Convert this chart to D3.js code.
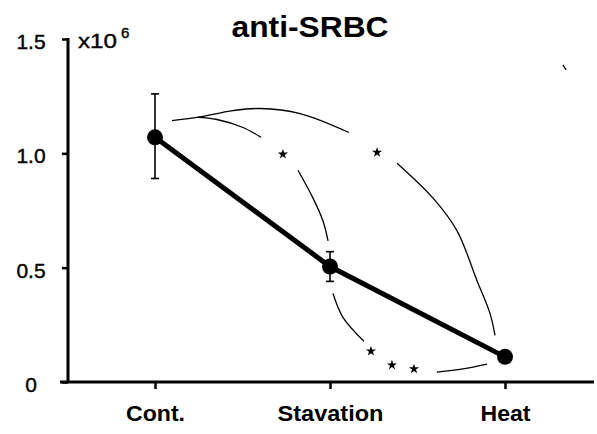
<!DOCTYPE html>
<html>
<head>
<meta charset="utf-8">
<script src="https://cdn.jsdelivr.net/npm/d3@7"></script>
<style>
  html, body { margin: 0; padding: 0; background: #fff; }
  svg { display: block; font-family: "Liberation Sans", Arial, Helvetica, sans-serif; }
</style>
</head>
<body>
<svg id="chart" width="597" height="434"></svg>
<script>
// ---- data ----
const categories = ["Cont.", "Stavation", "Heat"];
const means = [1.07, 0.505, 0.11];
const errLow = [0.89, 0.44, 0.11];
const errHigh = [1.26, 0.57, 0.11];
const yTicks = [0, 0.5, 1.0, 1.5];
const yTickLabels = ["0", "0.5", "1.0", "1.5"];
const title = "anti-SRBC";
const unitBase = "x10";
const unitExp = "6";

// significance annotation arcs: [category index position, value]
const arcUpper1 = [[0.097,1.143],[0.24,1.157],[0.446,1.187],[0.6,1.196],[0.829,1.174],[1.109,1.091]];
const arcUpper2 = [[1.383,0.957],[1.589,0.804],[1.726,0.661],[1.84,0.443],[1.914,0.30],[1.943,0.204]];
const arcMid1 = [[0.24,1.157],[0.354,1.148],[0.503,1.113],[0.606,1.07]];
const arcMid2 = [[0.817,0.926],[0.903,0.804],[0.96,0.704],[0.989,0.617]];
const arcLow1 = [[1.017,0.387],[1.074,0.283],[1.194,0.178]];
const arcLow2 = [[1.611,0.043],[1.76,0.057],[1.897,0.078]];
const stars = [[0.731,0.996],[1.269,1.004],[1.234,0.135],[1.354,0.074],[1.48,0.057]];
const stray = [[2.331,1.387],[2.349,1.365]];

// ---- layout ----
const svg = d3.select("#chart");
const x = d3.scalePoint().domain(categories).range([155, 505]);
const xi = d3.scaleLinear().domain([0, 2]).range([155, 505]);
const y = d3.scaleLinear().domain([0, 1.5]).range([382, 39]);
const axisX = 68;

// title
svg.append("text")
  .attr("x", 310).attr("y", 37)
  .attr("text-anchor", "middle")
  .attr("font-size", 30).attr("font-weight", "bold")
  .attr("textLength", 157).attr("lengthAdjust", "spacingAndGlyphs")
  .text(title);

// y axis
const yAxis = d3.axisLeft(y).tickValues(yTicks)
  .tickFormat((d, i) => yTickLabels[i]).tickSize(6).tickPadding(0);
const gy = svg.append("g").attr("transform", `translate(${axisX},0)`).call(yAxis);
gy.select(".domain").remove();
gy.selectAll(".tick line").attr("stroke", "#000").attr("stroke-width", 2.5);
gy.selectAll(".tick text")
  .attr("x", 31 - axisX).attr("text-anchor", "middle")
  .attr("font-size", 21).attr("fill", "#000")
  .attr("stroke", "#000").attr("stroke-width", 0.4)
  .attr("dy", "0.45em");
svg.append("line")
  .attr("x1", axisX).attr("x2", axisX)
  .attr("y1", y(1.5) - 1).attr("y2", y(0))
  .attr("stroke", "#000").attr("stroke-width", 3);

// x axis
const xAxis = d3.axisBottom(x).tickSize(7).tickPadding(16);
const gx = svg.append("g").attr("transform", `translate(0,${y(0)})`).call(xAxis);
gx.select(".domain").remove();
gx.selectAll(".tick line").attr("stroke", "#000").attr("stroke-width", 2.5);
gx.selectAll(".tick text")
  .attr("font-size", 22).attr("font-weight", "bold").attr("fill", "#000")
  .attr("textLength", (d) => d === "Stavation" ? 106 : (d === "Cont." ? 59 : 50))
  .attr("lengthAdjust", "spacingAndGlyphs");
svg.append("line")
  .attr("x1", 60).attr("x2", 594)
  .attr("y1", y(0)).attr("y2", y(0))
  .attr("stroke", "#000").attr("stroke-width", 3);

// unit label
const unit = svg.append("text").attr("x", 78).attr("y", 48).attr("font-size", 21)
  .attr("stroke", "#000").attr("stroke-width", 0.4);
unit.append("tspan").attr("textLength", 39).attr("lengthAdjust", "spacingAndGlyphs").text(unitBase);
unit.append("tspan").attr("dx", 4).attr("dy", -10).attr("font-size", 15).text(unitExp);

// annotation arcs
const arcLine = d3.line().x(d => xi(d[0])).y(d => y(d[1])).curve(d3.curveCatmullRom);
[arcUpper1, arcUpper2, arcMid1, arcMid2, arcLow1, arcLow2, stray].forEach(a => {
  svg.append("path").attr("d", arcLine(a))
    .attr("fill", "none").attr("stroke", "#000").attr("stroke-width", 1.3);
});
svg.selectAll(".star").data(stars).join("path")
  .attr("class", "star")
  .attr("transform", d => `translate(${xi(d[0])},${y(d[1])})`)
  .attr("d", d3.symbol(d3.symbolStar, 32));

// error bars
categories.forEach((c, i) => {
  if (errHigh[i] - errLow[i] < 0.01) return;
  const cx = x(c);
  const g = svg.append("g").attr("stroke", "#000").attr("stroke-width", 1.6);
  g.append("line").attr("x1", cx).attr("x2", cx).attr("y1", y(errHigh[i])).attr("y2", y(errLow[i]));
  g.append("line").attr("x1", cx - 4).attr("x2", cx + 4).attr("y1", y(errHigh[i])).attr("y2", y(errHigh[i]));
  g.append("line").attr("x1", cx - 4).attr("x2", cx + 4).attr("y1", y(errLow[i])).attr("y2", y(errLow[i]));
});

// mean line and markers
const meanLine = d3.line().x((d, i) => x(categories[i])).y(d => y(d));
svg.append("path").attr("d", meanLine(means))
  .attr("fill", "none").attr("stroke", "#000").attr("stroke-width", 5);
svg.selectAll(".pt").data(means).join("circle")
  .attr("class", "pt")
  .attr("cx", (d, i) => x(categories[i])).attr("cy", d => y(d))
  .attr("r", 8).attr("fill", "#000");
</script>
</body>
</html>
